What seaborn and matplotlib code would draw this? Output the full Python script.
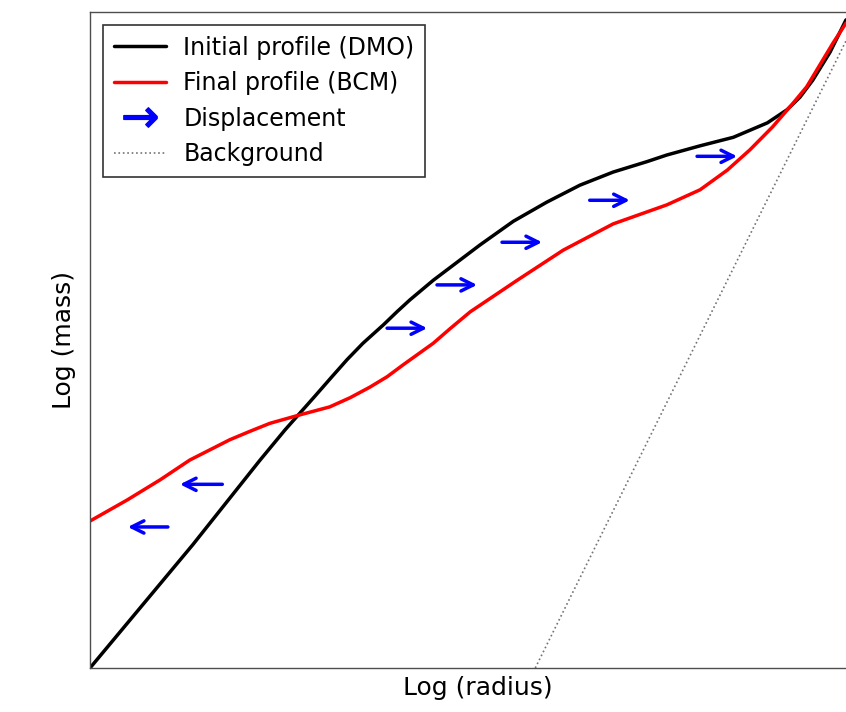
import matplotlib
matplotlib.use("Agg")
import matplotlib.pyplot as plt
import seaborn as sns
import pandas as pd
from matplotlib.lines import Line2D

# Initial profile (DMO)
dmo_x = [0.00, 1.36, 2.25, 2.58, 2.78, 2.98, 3.20, 3.40, 3.61, 3.88, 4.06, 4.23, 4.54, 5.16, 5.60,
         6.04, 6.48, 6.92, 7.37, 7.63, 8.07, 8.51, 8.96, 9.22, 9.39, 9.56, 9.79, 10.0]
dmo_y = [0.00, 1.88, 3.17, 3.63, 3.89, 4.15, 4.44, 4.70, 4.95, 5.23, 5.43, 5.61, 5.91, 6.45, 6.81,
         7.10, 7.36, 7.56, 7.72, 7.82, 7.96, 8.09, 8.31, 8.51, 8.70, 8.96, 9.39, 9.88]

# Final profile (BCM)
bcm_x = [0.00, 0.49, 0.93, 1.32, 1.85, 2.12, 2.38, 2.78, 3.17, 3.44, 3.70, 3.93, 4.14, 4.54, 4.76,
         5.03, 5.65, 6.26, 6.92, 7.63, 8.07, 8.43, 8.73, 9.03, 9.30, 9.48, 9.83, 10.0]
bcm_y = [2.24, 2.56, 2.87, 3.17, 3.48, 3.61, 3.73, 3.86, 3.98, 4.12, 4.28, 4.44, 4.62, 4.95, 5.17,
         5.43, 5.91, 6.37, 6.77, 7.06, 7.29, 7.59, 7.90, 8.25, 8.61, 8.86, 9.53, 9.83]

# Background
bg_x = [5.89, 10.0]
bg_y = [0.0, 9.56]

# Displacement arrows: start x, start y, end x
arrow_x0 = [3.93, 4.59, 5.45, 6.61, 8.03, 1.75, 1.03]
arrow_y0 = [5.18, 5.84, 6.49, 7.13, 7.80, 2.80, 2.15]
arrow_x1 = [4.46, 5.12, 5.98, 7.14, 8.56, 1.19, 0.50]

legend_labels = ["Initial profile (DMO)", "Final profile (BCM)", "Displacement", "Background"]

sns.set_style("white")
plt.rcParams['font.family'] = ['DejaVu Sans']
plt.rcParams['text.color'] = 'black'
plt.rcParams['axes.labelcolor'] = 'black'

fig = plt.figure(figsize=(8.46, 7.12), dpi=100)
ax = fig.add_axes([90/846, 44/712, 776/846, 656/712])

df_dmo = pd.DataFrame({"x": dmo_x, "y": dmo_y})
df_bcm = pd.DataFrame({"x": bcm_x, "y": bcm_y})
df_bg = pd.DataFrame({"x": bg_x, "y": bg_y})

sns.lineplot(data=df_bg, x="x", y="y", ax=ax, color="0.45", linestyle=":", lw=1.2, sort=False)
sns.lineplot(data=df_dmo, x="x", y="y", ax=ax, color="black", lw=2.5, sort=False,
             solid_joinstyle="round")
sns.lineplot(data=df_bcm, x="x", y="y", ax=ax, color="red", lw=2.5, sort=False,
             solid_joinstyle="round")

for x0, y0, x1 in zip(arrow_x0, arrow_y0, arrow_x1):
    ax.annotate("", xy=(x1, y0), xytext=(x0, y0),
                arrowprops=dict(arrowstyle="->", color="blue", lw=2.5,
                                mutation_scale=22, shrinkA=0, shrinkB=0))

ax.set_xlim(0, 10 * 776 / 756)
ax.set_ylim(0, 10)
ax.set_xticks([])
ax.set_yticks([])
ax.set_xlabel("Log (radius)", fontsize=18, labelpad=6)
ax.set_ylabel("Log (mass)", fontsize=18, labelpad=10)
for s in ax.spines.values():
    s.set_color("0.3")
    s.set_linewidth(1.0)

handles = [
    Line2D([], [], color="black", lw=2.5),
    Line2D([], [], color="red", lw=2.5),
    Line2D([], [], color="blue", linestyle="none", marker=r"$\rightarrow$", markersize=24),
    Line2D([], [], color="0.45", lw=1.2, linestyle=":"),
]
leg = ax.legend(handles, legend_labels, loc="upper left", fontsize=17,
                frameon=True, fancybox=False, borderaxespad=0.55,
                handlelength=2.2, handletextpad=0.75, labelspacing=0.49, borderpad=0.45)
leg.get_frame().set_edgecolor("black")
leg.get_frame().set_linewidth(1.2)
for t in leg.get_texts():
    t.set_color("black")

fig.savefig("out.png", dpi=100)
